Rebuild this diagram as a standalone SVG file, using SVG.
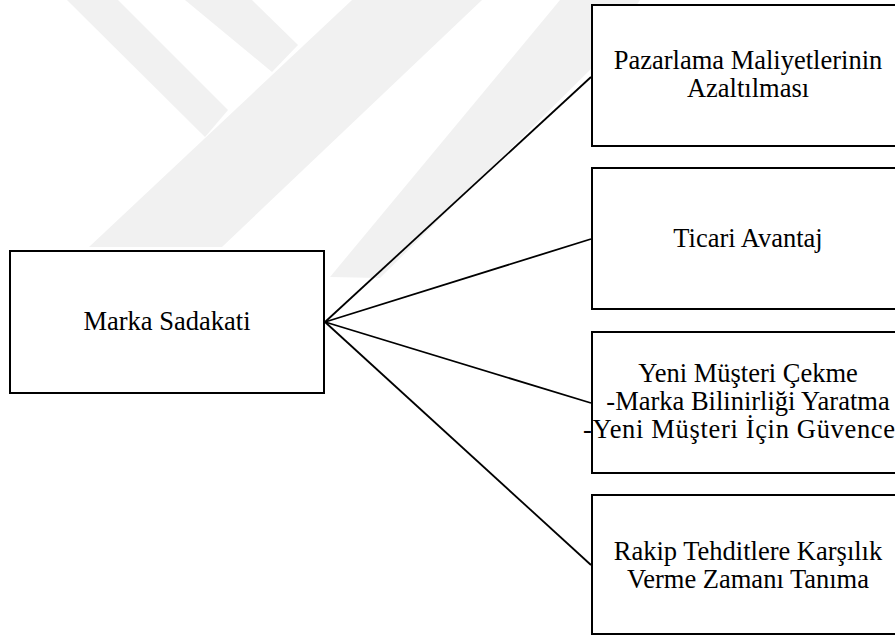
<svg xmlns="http://www.w3.org/2000/svg" width="895" height="636" viewBox="0 0 895 636">
<style>
.box{fill:#fff;stroke:#000;stroke-width:2}
.lbl{font-family:"Liberation Serif","Times New Roman",serif;font-size:26.5px;fill:#000;text-anchor:middle}
.wm{fill:#f1f1f1}
.con{stroke:#000;stroke-width:1.8;fill:none}
</style>
<rect width="895" height="636" fill="#fff"/>
<g id="watermark">
<polygon class="wm" points="67,0 118,0 228,110 205,137"/>
<polygon class="wm" points="185,0 252,0 298,45 272,72"/>
<polygon class="wm" points="89,247 222,247 482,0 352,0"/>
<polygon class="wm" points="330,277 380,278 600,60 640,0 560,0"/>
</g>
<g id="connectors">
<line class="con" x1="325" y1="322" x2="591" y2="77"/>
<line class="con" x1="325" y1="322" x2="591" y2="239"/>
<line class="con" x1="325" y1="322" x2="591" y2="403"/>
<line class="con" x1="325" y1="322" x2="591" y2="565"/>
</g>
<g id="marka-sadakati">
<rect class="box" x="10" y="251" width="314" height="142"/>
<text class="lbl" x="167" y="330">Marka Sadakati</text>
</g>
<g id="pazarlama">
<rect class="box" x="592" y="5" width="320" height="141"/>
<text class="lbl" x="748" y="69">Pazarlama Maliyetlerinin</text>
<text class="lbl" x="748" y="97">Azaltılması</text>
</g>
<g id="ticari">
<rect class="box" x="592" y="168" width="320" height="141"/>
<text class="lbl" x="748" y="247">Ticari Avantaj</text>
</g>
<g id="yeni-musteri">
<rect class="box" x="592" y="332" width="320" height="141"/>
<text class="lbl" x="748" y="382">Yeni Müşteri Çekme</text>
<text class="lbl" x="748" y="410">-Marka Bilinirliği Yaratma</text>
<text class="lbl" x="583" y="438" style="text-anchor:start" textLength="312" lengthAdjust="spacing">-Yeni Müşteri İçin Güvence</text>
</g>
<g id="rakip">
<rect class="box" x="592" y="495" width="320" height="139"/>
<text class="lbl" x="748" y="560">Rakip Tehditlere Karşılık</text>
<text class="lbl" x="748" y="588">Verme Zamanı Tanıma</text>
</g>
</svg>
